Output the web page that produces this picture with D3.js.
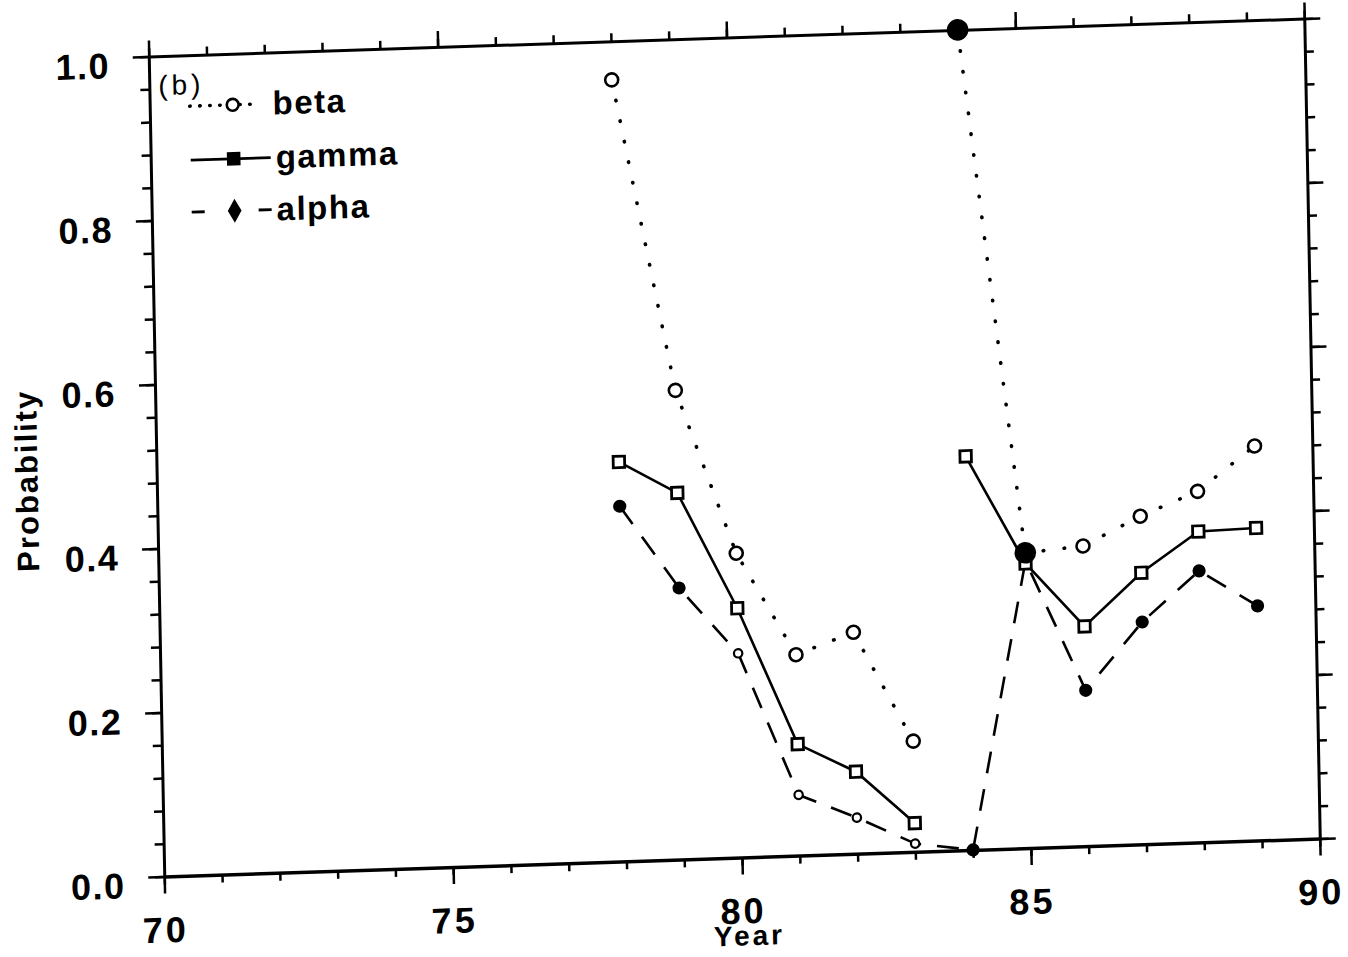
<!DOCTYPE html>
<html>
<head>
<meta charset="utf-8">
<script src="https://cdn.jsdelivr.net/npm/d3@7"></script>
<style>
body { margin: 0; background: #fff; }
svg text { font-family: "Liberation Sans", Arial, sans-serif; fill: #000; }
</style>
</head>
<body>
<div id="chart"></div>
<script>

//Data
var years = [78, 79, 80, 81, 82, 83, 84, 85, 86, 87, 88, 89];
var betaValues  = [0.953, 0.572, 0.371, 0.245, 0.270, 0.135, 1.000, 0.360, 0.366, 0.400, 0.428, 0.481];
var gammaValues = [0.487, 0.447, 0.304, 0.136, 0.100, 0.035, 0.480, 0.347, 0.268, 0.331, 0.379, 0.381];
var alphaValues = [0.433, 0.331, 0.249, 0.074, 0.044, 0.010, 0.000, 0.350, 0.190, 0.271, 0.331, 0.286];
var betaSegments = [[78, 83], [84, 89]];
var gammaSegments = [[78, 83], [84, 89]];
var alphaSegments = [[78, 89]];
var betaFilledYears = [84, 85];
var alphaOpenYears = [80, 81, 82, 83];
var xTickLabels = [70, 75, 80, 85, 90];
var yTickLabels = [0, 0.2, 0.4, 0.6, 0.8, 1.0];
var legendNames = ["beta", "gamma", "alpha"];

///////////////////////////////////////////////////////////////////////////
//////////////////// Set up and initiate svg containers ///////////////////
///////////////////////////////////////////////////////////////////////////

var totalWidth = 1348,
	totalHeight = 957;
var width = 1156,
	height = 820;

var svg = d3.select("#chart").append("svg")
	.attr("width", totalWidth)
	.attr("height", totalHeight);

//The scan is slightly tilted, so the whole plot gets the same tilt
var g = svg.append("g")
	.attr("transform", "matrix(0.99957,-0.03287,0.0189,1,148.75,56.5)");

var x = d3.scaleLinear().domain([70, 90]).range([0, width]);
var y = d3.scaleLinear().domain([0, 1]).range([height, 0]);

///////////////////////////////////////////////////////////////////////////
//////////////////////////////// Axes /////////////////////////////////////
///////////////////////////////////////////////////////////////////////////

function styleAxis(sel, domainWidth) {
	sel.selectAll(".tick line").style("stroke", "#000").style("stroke-width", "2.5px");
	sel.select(".domain").style("stroke", "#000").style("stroke-width", domainWidth);
}

var minorYears = d3.range(70, 91, 1);
var minorProb = d3.range(0, 1.0001, 0.04);

//bottom
g.append("g").attr("transform", "translate(0," + height + ")")
	.call(d3.axisBottom(x).tickValues(minorYears).tickSize(8).tickSizeOuter(0).tickFormat(""))
	.call(styleAxis, "3.5px");
var xMajor = g.append("g").attr("transform", "translate(0," + height + ")")
	.call(d3.axisBottom(x).tickValues(xTickLabels).tickSize(17).tickSizeOuter(0).tickFormat(d3.format("d")))
	.call(styleAxis, "0px");
xMajor.selectAll("text")
	.attr("y", 66).attr("dy", 0)
	.style("font-size", "36px").style("font-weight", "bold").style("letter-spacing", "3px");

//top
g.append("g")
	.call(d3.axisTop(x).tickValues(minorYears).tickSize(8).tickSizeOuter(0).tickFormat(""))
	.call(styleAxis, "3px");
g.append("g")
	.call(d3.axisTop(x).tickValues(xTickLabels).tickSize(16).tickSizeOuter(0).tickFormat(""))
	.call(styleAxis, "0px");

//left
g.append("g")
	.call(d3.axisLeft(y).tickValues(minorProb).tickSize(9).tickSizeOuter(0).tickFormat(""))
	.call(styleAxis, "3px");
var yMajor = g.append("g")
	.call(d3.axisLeft(y).tickValues(yTickLabels).tickSize(16).tickSizeOuter(0).tickFormat(d3.format(".1f")))
	.call(styleAxis, "0px");
yMajor.selectAll("text")
	.attr("x", -39).attr("y", 20).attr("dy", 0)
	.style("font-size", "36px").style("font-weight", "bold").style("letter-spacing", "1.5px");

//right
g.append("g").attr("transform", "translate(" + width + ",0)")
	.call(d3.axisRight(y).tickValues(minorProb).tickSize(9).tickSizeOuter(0).tickFormat(""))
	.call(styleAxis, "3px");
g.append("g").attr("transform", "translate(" + width + ",0)")
	.call(d3.axisRight(y).tickValues(yTickLabels).tickSize(16).tickSizeOuter(0).tickFormat(""))
	.call(styleAxis, "0px");

//axis titles
g.append("text")
	.attr("transform", "translate(-130," + (height / 2 + 10) + ") rotate(-90)")
	.attr("text-anchor", "middle")
	.attr("dy", "0.35em")
	.style("font-size", "31px").style("font-weight", "bold").style("letter-spacing", "2px")
	.text("Probability");

//sits at the page edge in the scan, kept just inside here
g.append("text")
	.attr("x", x(80) + 6)
	.attr("y", height + 88)
	.attr("text-anchor", "middle")
	.style("font-size", "28px").style("font-weight", "bold").style("letter-spacing", "3px")
	.text("Year");

///////////////////////////////////////////////////////////////////////////
//////////////////////////////// Lines ////////////////////////////////////
///////////////////////////////////////////////////////////////////////////

function points(values) {
	return years.map(function(yr, i) { return { year: yr, value: values[i] }; });
}
function segment(values, seg) {
	return points(values).filter(function(d) { return d.year >= seg[0] && d.year <= seg[1]; });
}

var line = d3.line()
	.x(function(d) { return x(d.year); })
	.y(function(d) { return y(d.value); });

var series = [
	{ name: "alpha", values: alphaValues, segs: alphaSegments, dash: "22,16", cap: "butt", w: 2.6 },
	{ name: "gamma", values: gammaValues, segs: gammaSegments, dash: null, cap: "butt", w: 2.6 },
	{ name: "beta", values: betaValues, segs: betaSegments, dash: "0.5,20.5", cap: "round", w: 3.6 }
];

series.forEach(function(s) {
	g.selectAll(".line-" + s.name)
		.data(s.segs)
		.enter().append("path")
		.attr("class", "line-" + s.name)
		.attr("d", function(seg) { return line(segment(s.values, seg)); })
		.style("fill", "none")
		.style("stroke", "#000")
		.style("stroke-width", s.w)
		.style("stroke-linecap", s.cap)
		.style("stroke-dasharray", s.dash);
});

///////////////////////////////////////////////////////////////////////////
/////////////////////////////// Markers ///////////////////////////////////
///////////////////////////////////////////////////////////////////////////

//alpha
g.selectAll(".alpha-dot")
	.data(points(alphaValues))
	.enter().append("circle")
	.attr("class", "alpha-dot")
	.attr("cx", function(d) { return x(d.year); })
	.attr("cy", function(d) { return y(d.value); })
	.attr("r", function(d) { return alphaOpenYears.indexOf(d.year) > -1 ? 4.2 : 5.5; })
	.style("fill", function(d) { return alphaOpenYears.indexOf(d.year) > -1 ? "#fff" : "#000"; })
	.style("stroke", "#000")
	.style("stroke-width", 2.2);

//gamma
g.selectAll(".gamma-dot")
	.data(points(gammaValues))
	.enter().append("path")
	.attr("class", "gamma-dot")
	.attr("transform", function(d) { return "translate(" + x(d.year) + "," + y(d.value) + ")"; })
	.attr("d", d3.symbol().type(d3.symbolSquare).size(130))
	.style("fill", "#fff")
	.style("stroke", "#000")
	.style("stroke-width", 2.8);

//beta
g.selectAll(".beta-dot")
	.data(points(betaValues))
	.enter().append("circle")
	.attr("class", "beta-dot")
	.attr("cx", function(d) { return x(d.year); })
	.attr("cy", function(d) { return y(d.value); })
	.attr("r", function(d) { return betaFilledYears.indexOf(d.year) > -1 ? 9.5 : 6.5; })
	.style("fill", function(d) { return betaFilledYears.indexOf(d.year) > -1 ? "#000" : "#fff"; })
	.style("stroke", "#000")
	.style("stroke-width", 2.6);

///////////////////////////////////////////////////////////////////////////
//////////////////////////////// Legend ///////////////////////////////////
///////////////////////////////////////////////////////////////////////////

g.append("text")
	.attr("x", 9)
	.attr("y", 39)
	.style("font-size", "28px").style("letter-spacing", "4px")
	.text("(b)");

var legendRows = [51, 105, 157];
var legendDash = ["0.5,9.5", null, "13,54,13"];
var legendEnd = [70, 80, 80];

var legend = g.selectAll(".legend")
	.data(legendNames)
	.enter().append("g")
	.attr("class", "legend")
	.attr("transform", function(d, i) { return "translate(40," + legendRows[i] + ")"; });

legend.append("line")
	.attr("x1", 0)
	.attr("x2", function(d, i) { return legendEnd[i]; })
	.style("stroke", "#000")
	.style("stroke-width", function(d, i) { return i === 0 ? 3.6 : 2.8; })
	.style("stroke-linecap", function(d, i) { return i === 0 ? "round" : "butt"; })
	.style("stroke-dasharray", function(d, i) { return legendDash[i]; });

legend.append("path")
	.attr("transform", "translate(43,0)")
	.attr("d", function(d, i) {
		var type = [d3.symbolCircle, d3.symbolSquare, d3.symbolDiamond][i];
		var size = [110, 120, 100][i];
		return d3.symbol().type(type).size(size)();
	})
	.style("fill", function(d, i) { return i === 0 ? "#fff" : "#000"; })
	.style("stroke", "#000")
	.style("stroke-width", 2.6);

legend.append("text")
	.attr("x", function(d, i) { return i === 0 ? 83 : 85; })
	.attr("y", 11)
	.style("font-size", "33px").style("font-weight", "bold").style("letter-spacing", "1.5px")
	.text(function(d) { return d; });

</script>
</body>
</html>
